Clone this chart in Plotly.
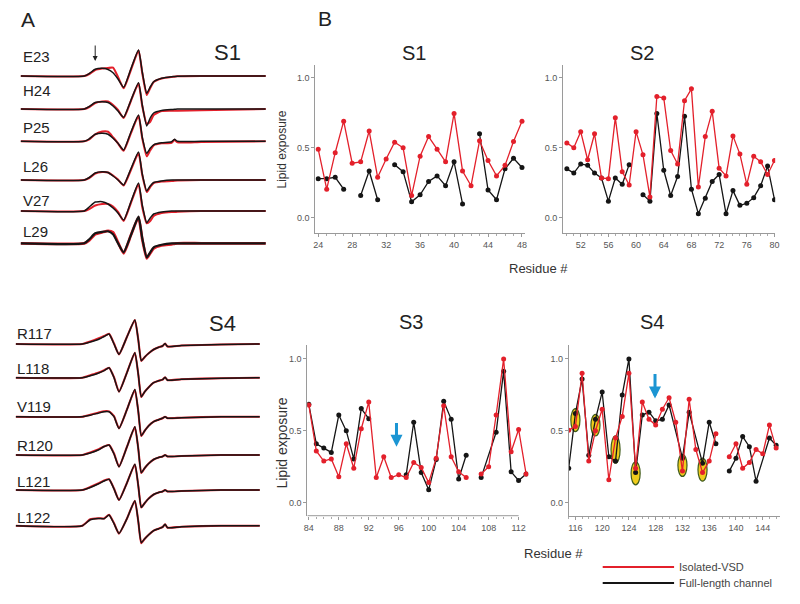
import plotly.graph_objects as go

W, H = 800, 604
RED = "#e3202b"
BLK = "#151515"

# ---------------- Panel B data ----------------
s1_red_x = list(range(24, 49))
s1_red_y = [0.49, 0.205, 0.465, 0.69, 0.39, 0.40, 0.62, 0.29, 0.42, 0.54, 0.50, 0.16, 0.44,
            0.58, 0.49, 0.40, 0.745, 0.335, 0.23, 0.55, 0.41, 0.30, 0.375, 0.545, 0.69]
s1_blk_x = [24, 25, 26, 27, None, 29, 30, 31, None, 33, 34, 35, 36, 37, 38, 39, 40, 41, None,
            43, 44, 45, 46, 47, 48]
s1_blk_y = [0.28, 0.28, 0.29, 0.205, None, 0.16, 0.335, 0.13, None, 0.38, 0.33, 0.115, 0.165,
            0.26, 0.30, 0.23, 0.40, 0.10, None, 0.60, 0.20, 0.13, 0.35, 0.425, 0.36]

s2_red_x = list(range(50, 81))
s2_red_y = [0.535, 0.50, 0.615, 0.415, 0.60, 0.285, 0.28, 0.715, 0.33, 0.235, 0.615, 0.45, 0.15,
            0.865, 0.855, 0.48, 0.385, 0.835, 0.92, 0.22, 0.58, 0.76, 0.355, 0.30, 0.585, 0.455,
            0.24, 0.44, 0.40, 0.31, 0.41]
s2_blk_x = [50, 51, 52, 53, 54, 55, 56, 57, 58, 59, None, 61, 62, 63, 64, 65, 66, 67, 68, 69, 70,
            71, 72, 73, 74, 75, 76, 77, 78, 79, 80]
s2_blk_y = [0.35, 0.32, 0.385, 0.375, 0.32, 0.285, 0.12, 0.285, 0.24, 0.38, None, 0.165, 0.12,
            0.745, 0.34, 0.16, 0.295, 0.725, 0.205, 0.03, 0.14, 0.26, 0.31, 0.03, 0.195, 0.09,
            0.105, 0.145, 0.23, 0.37, 0.13]

s3_red_x = [84, 85, 86, 87, 88, 89, 90, 91, 92, 93, 94, 95, 96, 97, 98, 99, 100, 101, 102, 103,
            104, 105, None, 107, 108, 109, 110, 111, 112, 113]
s3_red_y = [0.68, 0.36, 0.29, 0.305, 0.18, 0.41, 0.24, 0.515, 0.70, 0.175, 0.32, 0.175, 0.195,
            0.175, 0.28, 0.245, 0.14, 0.31, 0.675, 0.32, 0.215, 0.175, None, 0.20, 0.25, 0.61,
            1.0, 0.355, 0.51, 0.20]
s3_blk_x = [84, 85, 86, 87, 88, 89, 90, 91, 92, None, 97, 98, 99, 100, 101, 102, 103, 104, 105,
            None, 107, 109, 110, 111, 112, 113]
s3_blk_y = [0.685, 0.41, 0.38, 0.35, 0.61, 0.50, 0.305, 0.655, 0.585, None, 0.195, 0.56, 0.21,
            0.09, 0.30, 0.705, 0.58, 0.165, 0.33, None, 0.175, 0.49, 0.915, 0.215, 0.155, 0.20]

s4_red_x = [115, 116, 117, 118, 119, 120, 121, 122, 123, 124, 125, 126, 127, 128, 129, 130, 131,
            132, 133, 134, 135, 136, 137, None, 139, 140, 141, 142, 143, 144, 145, 146]
s4_red_y = [0.505, 0.53, 0.90, 0.29, 0.50, 0.65, 0.16, 0.45, 0.60, 0.90, 0.24, 0.70, 0.58, 0.54,
            0.65, 0.73, 0.56, 0.22, 0.72, 0.37, 0.21, 0.29, 0.48, None, 0.32, 0.41, 0.24, 0.28,
            0.37, 0.34, 0.54, 0.38]
s4_blk_x = [115, 116, 117, 118, 119, 120, 121, 122, 123, 124, 125, 126, 127, 128, 129, 130, 132,
            133, 135, 136, 137, None, 139, 140, 141, 142, 143, 145, 146]
s4_blk_y = [0.24, 0.62, 0.86, 0.33, 0.58, 0.77, 0.32, 0.29, 0.75, 1.0, 0.21, 0.61, 0.63, 0.57,
            0.58, 0.68, 0.31, 0.63, 0.275, 0.56, 0.41, None, 0.22, 0.31, 0.46, 0.39, 0.15, 0.45,
            0.40]

# highlighted residues in S4 (centre value, half height)
oval_res = [116, 119, 122, 125, 132, 135]
oval_val = [0.575, 0.54, 0.37, 0.205, 0.26, 0.23]
oval_half = [0.08, 0.075, 0.095, 0.08, 0.077, 0.08]

# ---------------- Panel A data (EPR spectra) ----------------
s1_field = [18, 82, 87, 93, 100, 106, 111, 116, 121.7, 129, 136.7, 140.5, 145, 148.5, 152, 160,
            170, 173, 176, 200, 265]
s1_names = ["E23", "H24", "P25", "L26", "V27", "L29"]
s1_base = [76, 109, 141.3, 180, 211, 243.3]
s1_label_y = [56, 90.7, 127.7, 166.7, 200, 231.7]
s1_black = [
    [0, 0, 2.5, 6.7, 7.7, 6.5, 3.3, -3, -11.3, 7, 26, 4, -17.3, -11, -5.7, -2.3, -0.7, -0.5, -0.3, 0, 0],
    [0, 0, 2.5, 6.5, 7.3, 6.5, 3, -2, -8.3, 8.5, 26.3, 4, -17, -9, -4, -1.5, -0.5, -0.3, 0, 0, 0],
    [0, 0, 2.5, 7, 8, 7, 3, -2, -8.7, 9, 26.3, 4, -12, -7, -3.5, -1.5, -0.5, 2, 0, 0, 0],
    [0, 0, 2.5, 7, 8.3, 7.5, 4, 0, -5, 11, 28, 6, -11, -6, -2.5, -1, 0, 0, 0, 0, 0],
    [0, 0, 4, 9, 9.3, 7, 3, -2, -9, 9, 28, 6, -11.7, -7, -3, -1, 0, 0, 0, 0, 0],
    [0, 0, 4, 10, 11.5, 12, 9, 0, -9, 8, 26.7, 5, -14, -9, -4, -1.5, 0, 0, 0, 0, 0],
]
s1_red = [
    [0, 0, 2, 6, 7.5, 8, 8.3, -1, -12.3, 6, 25.5, 3, -19, -12, -6, -2.5, -1, -0.7, -0.3, 0, 0],
    [0, 0, 2, 6, 7.5, 7.5, 4, -1, -9, 8, 25.5, 3, -15, -12.7, -6, -2, -1.7, -1.7, -1.7, -1.2, 0],
    [0, 0, 2, 7, 9.7, 9.5, 4, -2, -9.5, 8, 25.5, 3, -15, -9, -4, -2, -1.5, 1.5, -1, -0.7, 0],
    [0, 0, 2, 6.5, 8, 7.5, 4.5, 0.5, -5.5, 10, 27, 5, -12, -7, -3, -1.5, -1, -0.7, -0.5, 0, 0],
    [0, 0, 2, 5.5, 7, 7, 4.5, -1, -10, 8, 27, 4, -12.3, -10, -5, -2, -1, -1, -0.8, 0, 0],
    [0, 0, 3, 9, 11, 12.5, 11, 1, -10, 8, 26, 4, -15, -10, -5, -2, -1, -0.5, 0, 0, 0],
]

s4_field = [13, 80, 88, 96, 102, 107, 112, 117, 125, 133, 136.5, 139.5, 143, 147, 152, 157, 161,
            163.5, 166, 180, 220, 259]
s4_names = ["R117", "L118", "V119", "R120", "L121", "L122"]
s4_base = [344, 377.7, 416.7, 455, 490, 525.7]
s4_label_y = [333.3, 368.3, 406.7, 445, 481.7, 517.3]
s4_black = [
    [0, 0, 2, 4.5, 7.5, 10, 0, -10.3, 7, 24, 4, -16.7, -13, -9.3, -5.5, -3.3, -2, 0.5, -2.5, -1.5, -0.5, 0],
    [0, 0, 2, 4.5, 7, 10, 0, -14, 5, 25, 3, -19, -14, -9.5, -5, -3, -2, 0.5, -2.5, -1.5, -0.5, 0],
    [0, 0, 1.5, 3.5, 5, 5, 0, -11.7, 7, 27.3, 5, -19, -14, -9, -5, -3, -1.5, 0, -1.5, -1, 0, 0],
    [0, 0, 2, 5, 8.5, 10, 1, -11.7, 8, 28.3, 6, -17.7, -13, -8.5, -4.5, -2.5, -1.5, 0, -1.5, -1, 0, 0],
    [0, 0, 2.5, 6, 9, 10.7, 1, -10, 7, 25.7, 4, -17.3, -13, -8.5, -4.5, -2.5, -1.5, 0, -1.5, -1, 0, 0],
    [0, 0, 6, 7.3, 7, 10.7, 2, -7.7, 7, 25, 4, -17, -13, -9, -5, -3, -1.5, 1.5, -2, -1, 0, 0],
]
s4_red = [
    [0, 0, 2.5, 5.5, 8, 10.3, 0.5, -10.5, 7, 24, 4, -17, -13, -9.3, -5.5, -3.3, -2, 0.5, -2.5, -1.5, -0.5, 0],
    [0, 0, 2.5, 5, 7.5, 10, 0.5, -14, 5, 25, 3, -19.3, -14, -9.5, -5, -3, -2, 0.5, -2.5, -1.5, -0.5, 0],
    [0, 0, 2, 4, 5.5, 5.3, 0.5, -11.7, 7, 27, 5, -19.3, -14, -9, -5, -3, -1.5, 0, -1.5, -1, 0, 0],
    [0, 0, 2.5, 5.5, 8.5, 10, 1.5, -11.7, 8, 28, 6, -18, -13, -8.5, -4.5, -2.5, -1.5, 0, -1.5, -1, 0, 0],
    [0, 0, 3, 6.5, 9.5, 10.7, 1.5, -10, 7, 25.5, 4, -17.5, -13, -8.5, -4.5, -2.5, -1.5, 0, -1.5, -1, 0, 0],
    [0, 0, 6.5, 7.5, 7.3, 11, 2.5, -8, 7, 25, 4, -17.5, -13, -9, -5, -3, -1.5, 1.5, -2, -1, 0, 0],
]

# ---------------- helpers ----------------
def px(x):
    return x / W

def py(y):
    return 1 - y / H

fig = go.Figure()

# Panel A spectra on hidden pixel-like axes (x5/y5)
def add_spectra(field, names, bases, blacks, reds):
    for i, name in enumerate(names):
        yr = [bases[i] - d for d in reds[i]]
        yb = [bases[i] - d for d in blacks[i]]
        lw = 2.2 if name == "L29" else 1.5
        fig.add_trace(go.Scatter(x=field, y=yr, mode="lines", xaxis="x5", yaxis="y5",
                                 line=dict(color=RED, width=lw + 0.6, shape="spline", smoothing=0.5),
                                 showlegend=False, hoverinfo="skip"))
        fig.add_trace(go.Scatter(x=field, y=yb, mode="lines", xaxis="x5", yaxis="y5",
                                 line=dict(color=BLK, width=lw, shape="spline", smoothing=0.5),
                                 showlegend=False, hoverinfo="skip"))

add_spectra(s1_field, s1_names, s1_base, s1_black, s1_red)
add_spectra(s4_field, s4_names, s4_base, s4_black, s4_red)

# Panel B traces
panels = [
    ("x", "y", s1_red_x, s1_red_y, s1_blk_x, s1_blk_y),
    ("x2", "y2", s2_red_x, s2_red_y, s2_blk_x, s2_blk_y),
    ("x3", "y3", s3_red_x, s3_red_y, s3_blk_x, s3_blk_y),
    ("x4", "y4", s4_red_x, s4_red_y, s4_blk_x, s4_blk_y),
]
for xa, ya, rx, ry, bx, by in panels:
    fig.add_trace(go.Scatter(x=bx, y=by, mode="lines+markers", xaxis=xa, yaxis=ya,
                             line=dict(color=BLK, width=1.3), marker=dict(color=BLK, size=5),
                             showlegend=False, connectgaps=False))
    fig.add_trace(go.Scatter(x=rx, y=ry, mode="lines+markers", xaxis=xa, yaxis=ya,
                             line=dict(color=RED, width=1.3), marker=dict(color=RED, size=5),
                             showlegend=False, connectgaps=False))

# ---------------- axes ----------------
tickfont = dict(family="Liberation Sans, Arial", size=9, color="#555")
def xaxis_cfg(dom, rng, t0, t1, show_line=True, minor_vals=None):
    cfg = dict(domain=[px(dom[0]), px(dom[1])], range=rng, showgrid=False, zeroline=False,
               showline=show_line, linecolor="#9a9a9a", linewidth=1, ticks="outside", ticklen=3,
               tickcolor="#9a9a9a", tickvals=list(range(t0, t1 + 1, 4)), tickfont=tickfont)
    cfg["minor"] = dict(ticks="outside", ticklen=2, tickcolor="#aaa",
                        tickvals=minor_vals if minor_vals else None, dtick=None if minor_vals else 1)
    return cfg

def yaxis_cfg(dom, rng):
    return dict(domain=[py(dom[0]), py(dom[1])], range=rng, showgrid=False, zeroline=False,
                showline=True, linecolor="#9a9a9a", linewidth=1, ticks="outside", ticklen=3,
                tickcolor="#9a9a9a", tickvals=[0, 0.5, 1.0], ticktext=["0.0", "0.5", "1.0"],
                tickfont=tickfont)

fig.update_layout(
    width=W, height=H, margin=dict(l=0, r=0, t=0, b=0),
    paper_bgcolor="white", plot_bgcolor="rgba(0,0,0,0)",
    font=dict(family="Liberation Sans, Arial", color="#222"),
    xaxis=xaxis_cfg((315, 527), [23.65, 48.4], 24, 48),
    yaxis=dict(yaxis_cfg((233, 65), [-0.107, 1.09]), anchor="x"),
    xaxis2=dict(xaxis_cfg((565, 779), [49.45, 80.1], 52, 80), anchor="y2"),
    yaxis2=dict(yaxis_cfg((233, 65), [-0.107, 1.09]), anchor="x2"),
    xaxis3=dict(xaxis_cfg((307, 530), [83.8, 113.3], 84, 112, show_line=False,
                          minor_vals=list(range(84, 113))), anchor="y3"),
    yaxis3=dict(yaxis_cfg((515.7, 345), [-0.09, 1.097]), anchor="x3"),
    xaxis4=dict(xaxis_cfg((570.7, 784), [115, 146.6], 116, 144), anchor="y4"),
    yaxis4=dict(yaxis_cfg((515.7, 345), [-0.09, 1.097]), anchor="x4"),
    xaxis5=dict(domain=[0, px(270)], range=[0, 270], visible=False, anchor="y5"),
    yaxis5=dict(domain=[0, 1], range=[H, 0], visible=False, anchor="x5"),
)

shapes = []
# S3 x-axis line ends at 112 while the data run a little past it
shapes.append(dict(type="line", xref="x3", yref="y3 domain", x0=83.8, x1=112, y0=0, y1=0,
                   line=dict(color="#9a9a9a", width=1)))
# highlighted residues
for r, c, h in zip(oval_res, oval_val, oval_half):
    shapes.append(dict(type="circle", xref="x4", yref="y4", x0=r - 0.68, x1=r + 0.68,
                       y0=c - h, y1=c + h, fillcolor="#f0cc1c",
                       line=dict(color="#3f5b1c", width=1.2), layer="below"))
# legend lines
shapes.append(dict(type="line", xref="paper", yref="paper", x0=px(605), x1=px(677),
                   y0=py(567), y1=py(567), line=dict(color=RED, width=2)))
shapes.append(dict(type="line", xref="paper", yref="paper", x0=px(605), x1=px(677),
                   y0=py(583), y1=py(583), line=dict(color=BLK, width=2)))
fig.update_layout(shapes=shapes)

ann = []
def text(x, y, s, size, xanchor="center", color="#222", angle=0):
    ann.append(dict(xref="paper", yref="paper", x=px(x), y=py(y), text=s, showarrow=False,
                    xanchor=xanchor, yanchor="middle", textangle=angle,
                    font=dict(size=size, color=color, family="Liberation Sans, Arial")))

text(25, 20, "A", 21)
text(325, 18, "B", 21)
text(226, 53, "S1", 22)
text(221, 323, "S4", 22)
text(415, 53, "S1", 20)
text(645, 53, "S2", 20)
text(412, 322, "S3", 20)
text(655, 322, "S4", 20)
text(281, 150, "Lipid exposure", 12, angle=-90, color="#333")
text(281, 443, "Lipid exposure", 14, angle=-90, color="#333")
text(540, 268, "Residue #", 13, color="#333")
text(555, 553, "Residue #", 13, color="#333")
text(680, 567, "Isolated-VSD", 11, xanchor="left", color="#444")
text(680, 583, "Full-length channel", 11, xanchor="left", color="#444")
for n, y in zip(s1_names, s1_label_y):
    text(18, y, n, 15, xanchor="left")
for n, y in zip(s4_names, s4_label_y):
    text(12, y, n, 15, xanchor="left")

# arrows
ann.append(dict(xref="x5", yref="y5", axref="x5", ayref="y5", x=93, y=61, ax=93, ay=44,
                showarrow=True, arrowhead=2, arrowsize=1, arrowwidth=1, arrowcolor="#222", text=""))
ann.append(dict(xref="x3", yref="y3", axref="x3", ayref="y3", x=95.7, y=0.39, ax=95.7, ay=0.565,
                showarrow=True, arrowhead=2, arrowsize=0.8, arrowwidth=3, arrowcolor="#1b95d3", text=""))
ann.append(dict(xref="x4", yref="y4", axref="x4", ayref="y4", x=127.9, y=0.725, ax=127.9, ay=0.905,
                showarrow=True, arrowhead=2, arrowsize=0.8, arrowwidth=3, arrowcolor="#1b95d3", text=""))
fig.update_layout(annotations=ann)

fig.write_html("out.html", post_script="document.body.style.margin='0px';",
               config={"displayModeBar": False})
